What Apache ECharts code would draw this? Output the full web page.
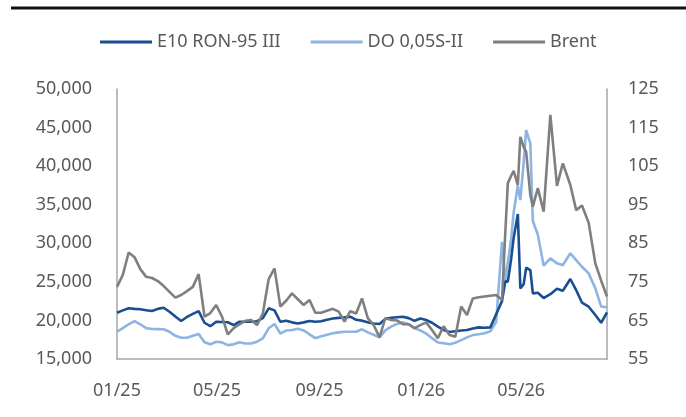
<!DOCTYPE html>
<html><head><meta charset="utf-8">
<script src="https://cdn.jsdelivr.net/npm/echarts@6/dist/echarts.min.js"></script>
<style>html,body{margin:0;padding:0;background:#fff;}#c{width:686px;height:417px;}</style>
</head><body><div id="c"></div>
<script>
const dates = [
'2025-01-01','2025-01-08','2025-01-15','2025-01-22','2025-01-29',
'2025-02-05','2025-02-12','2025-02-19','2025-02-26',
'2025-03-05','2025-03-12','2025-03-19','2025-03-26',
'2025-04-02','2025-04-09','2025-04-16','2025-04-23','2025-04-30',
'2025-05-07','2025-05-14','2025-05-21','2025-05-28',
'2025-06-04','2025-06-11','2025-06-18','2025-06-25',
'2025-07-02','2025-07-09','2025-07-16','2025-07-23','2025-07-30',
'2025-08-06','2025-08-13','2025-08-20','2025-08-27',
'2025-09-03','2025-09-10','2025-09-17','2025-09-24',
'2025-10-01','2025-10-08','2025-10-15','2025-10-22','2025-10-29',
'2025-11-05','2025-11-12','2025-11-19','2025-11-26',
'2025-12-03','2025-12-10','2025-12-17','2025-12-24','2025-12-31',
'2026-01-07','2026-01-14','2026-01-21','2026-01-28',
'2026-02-04','2026-02-11','2026-02-18','2026-02-25',
'2026-03-04','2026-03-11','2026-03-18','2026-03-25',
'2026-04-01',
'2026-04-08','2026-04-12','2026-04-15','2026-04-19','2026-04-22','2026-04-27','2026-04-30',
'2026-05-04','2026-05-07','2026-05-12','2026-05-15','2026-05-21','2026-05-28',
'2026-06-05','2026-06-13','2026-06-20','2026-06-29',
'2026-07-06','2026-07-13','2026-07-21','2026-07-29',
'2026-08-05','2026-08-12'];

const seriesNames = ['E10 RON-95 III', 'DO 0,05S-II', 'Brent'];

const e10 = [
21000,21300,21570,21500,21440,21330,21220,21500,21650,21130,
20500,19925,20450,20850,21200,19700,19250,19830,19800,19760,
19400,19830,19830,19830,19900,20300,21570,21300,19830,19960,
19750,19600,19750,19920,19820,19900,20100,20260,20330,20400,
20480,20080,19970,19750,19600,19540,20200,20350,20420,20480,
20300,19950,20250,20050,19700,19200,18760,18500,18600,18700,
18760,18950,19100,19050,19100,20800,
22500,25100,25000,28000,30700,33790,24160,24700,26830,26530,23510,23590,
22900,23400,24100,23850,25370,23940,22300,21780,20700,19700,21050];

const dieselDO = [
18540,19000,19500,19900,19500,19000,18880,18870,18850,18540,
18000,17760,17760,18000,18240,17160,16900,17240,17150,16800,
16900,17160,17000,17000,17240,17680,18980,19540,18300,18700,
18750,18930,18700,18200,17700,17950,18150,18330,18450,18540,
18540,18540,18850,18450,18150,17800,18700,19200,19550,19750,
19500,19000,18700,18300,17700,17150,17050,16900,17100,17450,
17800,18100,18200,18350,18600,19800,
30200,25240,27500,30600,34000,37500,35600,40500,44680,42960,32890,31100,
27100,28050,27400,27150,28700,27830,26960,26100,24160,21800,21700];

const brent = [
73.7,76.8,82.6,81.4,78.3,76.3,76.0,75.2,73.9,72.4,
70.9,71.6,72.6,73.7,77.0,66.0,66.9,69.0,66.0,61.4,
63.0,64.0,64.9,65.1,63.8,66.8,75.7,78.5,68.6,70.1,
72.0,70.5,69.0,70.3,67.0,67.0,67.5,68.0,67.3,64.7,
67.4,66.8,70.7,65.6,63.8,60.6,65.6,65.1,65.0,64.0,
64.0,63.0,63.8,64.5,62.5,60.4,63.5,61.2,60.8,68.6,
66.4,70.7,71.0,71.2,71.4,71.6,
70.3,88.0,100.6,102.5,103.8,100.1,112.6,110.0,108.7,97.5,94.5,99.3,
93.2,118.3,99.9,105.7,100.1,93.6,94.8,90.3,79.8,75.3,71.2];

const xTickDates = ['2025-01-01','2025-05-01','2025-09-01','2026-01-01','2026-05-01'];
const xRange = ['2025-01-01','2026-08-12'];

function ts(s){ const p=s.split('-').map(Number); return Date.UTC(p[0],p[1]-1,p[2]); }
function pairs(vals){ return dates.map((d,i)=>[ts(d), vals[i]]); }

const FONT = 'Noto Sans';
const TXT = '#595959';
const AX = '#A6A6A6';
const COLORS = ['#1B4E91', '#8DB4E2', '#7F7F7F'];

const chart = echarts.init(document.getElementById('c'), null, {renderer:'canvas'});
chart.setOption({
  animation:false,
  backgroundColor:'#fff',
  graphic:[{type:'rect', left:11, top:6.5, shape:{width:676, height:3}, style:{fill:'#111'}}],
  legend:{
    data:seriesNames, left:95, top:28, icon:'rect', itemWidth:52, itemHeight:3, itemGap:30,
    textStyle:{fontFamily:FONT, fontSize:18, color:TXT}
  },
  grid:{left:117, right:79, top:89, bottom:58},
  xAxis:{
    type:'value', min:ts(xRange[0]), max:ts(xRange[1]),
    axisLine:{lineStyle:{color:AX, width:1.5}},
    axisTick:{show:false}, splitLine:{show:false},
    axisLabel:{
      customValues: xTickDates.map(ts),
      formatter:function(v){ const d=new Date(v); const m=d.getUTCMonth()+1; return (m<10?'0':'')+m+'/'+String(d.getUTCFullYear()).slice(2); },
      fontFamily:FONT, fontSize:18, color:TXT, margin:23
    }
  },
  yAxis:[{
    type:'value', min:15000, max:50000, interval:5000,
    axisLine:{show:true, lineStyle:{color:AX, width:1.5}},
    axisTick:{show:false}, splitLine:{show:false},
    axisLabel:{fontFamily:FONT, fontSize:18, color:TXT, margin:25,
      formatter:function(v){ return v.toLocaleString('en-US'); }}
  },{
    type:'value', min:55, max:125, interval:10, position:'right',
    axisLine:{show:true, lineStyle:{color:AX, width:1.5}},
    axisTick:{show:false}, splitLine:{show:false},
    axisLabel:{fontFamily:FONT, fontSize:18, color:TXT, margin:21}
  }],
  series:[
    {name:seriesNames[0], type:'line', yAxisIndex:0, data:pairs(e10), symbol:'none', lineStyle:{color:COLORS[0], width:2.6}, itemStyle:{color:COLORS[0]}, z:3},
    {name:seriesNames[1], type:'line', yAxisIndex:0, data:pairs(dieselDO), symbol:'none', lineStyle:{color:COLORS[1], width:2.6}, itemStyle:{color:COLORS[1]}, z:2},
    {name:seriesNames[2], type:'line', yAxisIndex:1, data:pairs(brent), symbol:'none', lineStyle:{color:COLORS[2], width:2.6}, itemStyle:{color:COLORS[2]}, z:4}
  ]
});
</script></body></html>
